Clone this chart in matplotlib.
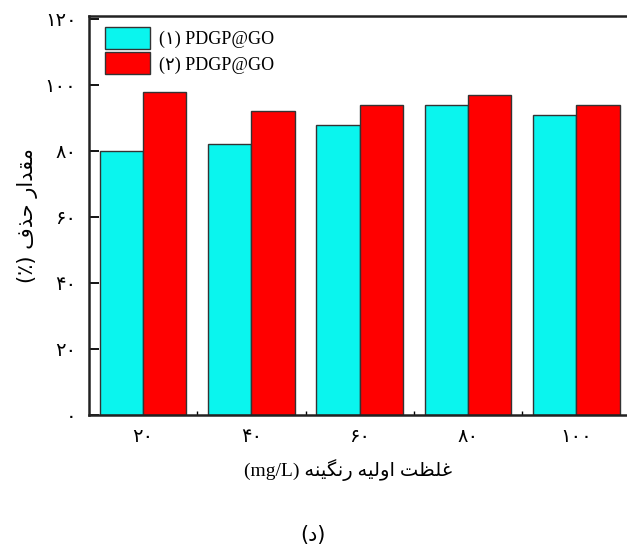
import matplotlib
matplotlib.use("Agg")
import matplotlib.pyplot as plt
import numpy as np

# ---------------- data ----------------
categories = ["۲۰", "۴۰", "۶۰", "۸۰", "۱۰۰"]
series1_label = "(۱) PDGP@GO"
series2_label = "(۲) PDGP@GO"
series1_values = [80, 82, 88, 94, 91]
series2_values = [98, 92, 94, 97, 94]
y_ticks = [0, 20, 40, 60, 80, 100, 120]
y_tick_labels = ["۰", "۲۰", "۴۰", "۶۰", "۸۰", "۱۰۰", "۱۲۰"]
x_label_fa = "غلظت اولیه رنگینه"
y_label_fa = "مقدار حذف"
caption_fa = "د"

# ---------------- minimal Arabic/Persian shaping ----------------
FORMS = {  # isolated, final, initial, medial
    "ا": ("\uFE8D", "\uFE8E", None, None),
    "د": ("\uFEA9", "\uFEAA", None, None),
    "ذ": ("\uFEAB", "\uFEAC", None, None),
    "ر": ("\uFEAD", "\uFEAE", None, None),
    "و": ("\uFEED", "\uFEEE", None, None),
    "ت": ("\uFE95", "\uFE96", "\uFE97", "\uFE98"),
    "ح": ("\uFEA1", "\uFEA2", "\uFEA3", "\uFEA4"),
    "ظ": ("\uFEC5", "\uFEC6", "\uFEC7", "\uFEC8"),
    "غ": ("\uFECD", "\uFECE", "\uFECF", "\uFED0"),
    "ف": ("\uFED1", "\uFED2", "\uFED3", "\uFED4"),
    "ق": ("\uFED5", "\uFED6", "\uFED7", "\uFED8"),
    "ل": ("\uFEDD", "\uFEDE", "\uFEDF", "\uFEE0"),
    "م": ("\uFEE1", "\uFEE2", "\uFEE3", "\uFEE4"),
    "ن": ("\uFEE5", "\uFEE6", "\uFEE7", "\uFEE8"),
    "ه": ("\uFEE9", "\uFEEA", "\uFEEB", "\uFEEC"),
    "ی": ("\uFBFC", "\uFBFD", "\uFBFE", "\uFBFF"),
    "گ": ("\uFB92", "\uFB93", "\uFB94", "\uFB95"),
}


def dual(c):
    return c in FORMS and FORMS[c][2] is not None


def shape_rtl(text):
    out = []
    for i, c in enumerate(text):
        if c not in FORMS:
            out.append(c)
            continue
        prev = text[i - 1] if i > 0 else ""
        nxt = text[i + 1] if i + 1 < len(text) else ""
        jp = dual(prev)
        jn = dual(c) and nxt in FORMS
        iso, fin, ini, med = FORMS[c]
        if jp and jn:
            out.append(med)
        elif jp:
            out.append(fin)
        elif jn:
            out.append(ini)
        else:
            out.append(iso)
    return "".join(out)[::-1]


fa_font = "DejaVu Sans"
lat_font = ["Liberation Serif", "DejaVu Sans"]

# ---------------- figure ----------------
fig = plt.figure(figsize=(6.27, 5.51), dpi=100)
ax = fig.add_axes([89 / 627, 1 - 415 / 551, 541.5 / 627, 399 / 551])

x = np.arange(len(categories))
w = 0.4
ax.bar(x - w / 2, series1_values, width=w, color="#0AF5EE",
       edgecolor="#333333", linewidth=1.0, label=series1_label)
ax.bar(x + w / 2, series2_values, width=w, color="#FF0000",
       edgecolor="#333333", linewidth=1.0, label=series2_label)

ax.set_xlim(-0.5, len(categories) - 0.5)
ax.set_ylim(0, 120.9)

ax.set_xticks(x)
ax.set_xticklabels(categories, fontfamily=fa_font, fontsize=14)
ax.set_xticks(x[:-1] + 0.5, minor=True)
ax.tick_params(axis="x", which="major", length=0, pad=9)
ax.tick_params(axis="x", which="minor", direction="in", length=3, width=1)

ax.set_yticks(y_ticks)
ax.set_yticklabels(y_tick_labels, fontfamily=fa_font, fontsize=14)
ax.tick_params(axis="y", direction="in", length=7, width=1.3, pad=9)

for s in ["left", "top", "bottom", "right"]:
    ax.spines[s].set_linewidth(1.8)
    ax.spines[s].set_color("#222222")

ax.set_xlabel("(mg/L) " + shape_rtl(x_label_fa), fontsize=14,
              fontfamily=lat_font)
ax.xaxis.set_label_coords(0.478, -0.11)
ax.set_ylabel("(٪) " + shape_rtl(y_label_fa), fontsize=15,
              fontfamily=fa_font)
ax.yaxis.set_label_coords(-0.094, 0.5)

leg = ax.legend(loc="upper left", frameon=False,
                prop={"family": lat_font, "size": 13},
                handlelength=2.5, handleheight=1.5, handletextpad=0.5,
                labelspacing=0.2, borderaxespad=0.2,
                bbox_to_anchor=(0.01, 1.0))

fig.text(0.499, 0.029, "(" + shape_rtl(caption_fa) + ")", ha="center",
         va="center", fontsize=15, fontfamily=fa_font)

fig.savefig("out.png", dpi=100)
